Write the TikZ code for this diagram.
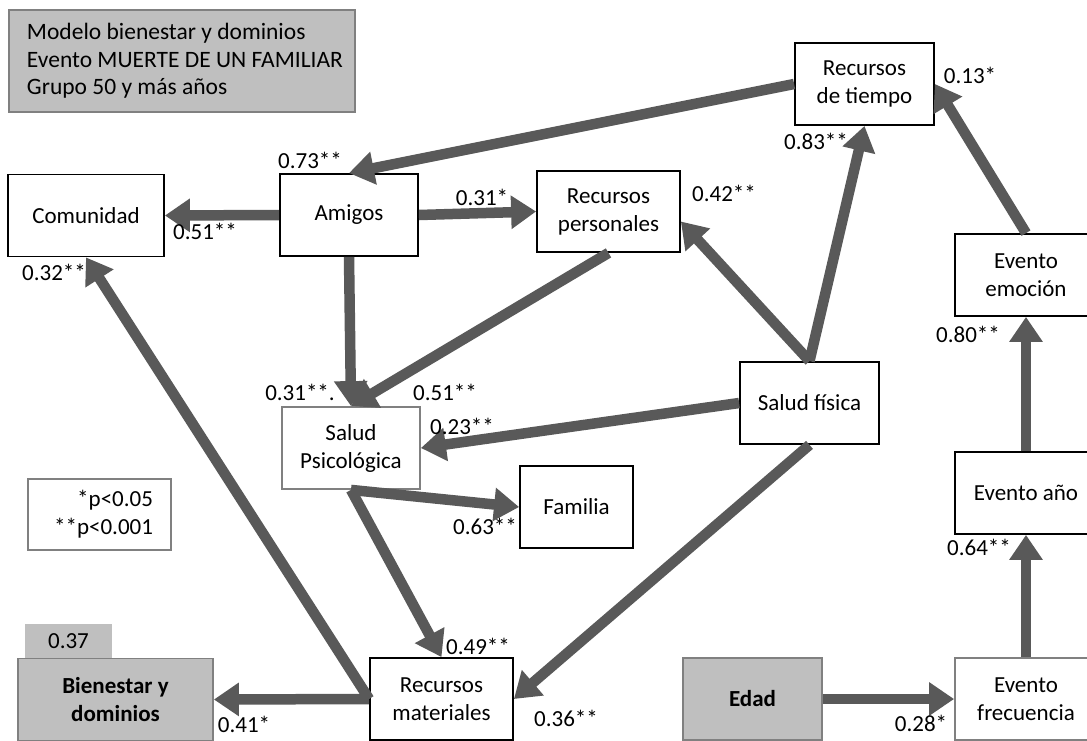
\documentclass[tikz,border=0pt]{standalone}
\usepackage{fontspec}
\setmainfont{Carlito}
\usetikzlibrary{arrows.meta}
\setlength{\parindent}{0pt}
\definecolor{arrowgray}{HTML}{595959}
\definecolor{boxgray}{HTML}{BFBFBF}
\definecolor{edgegray}{HTML}{808080}

\tikzset{
  box/.style={draw=black, line width=1.8pt, fill=white, minimum height=82pt,
    inner sep=0pt, align=center, font=\fontsize{23}{28}\selectfont},
  greybox/.style={box, fill=boxgray, draw=edgegray},
  softbox/.style={box, draw=edgegray},
  link/.style={draw=arrowgray, line width=10.5pt, -{Triangle[length=25pt,width=32pt]}},
  coef/.style={font=\fontsize{23}{27}\selectfont, inner sep=0pt}
}

\begin{document}
\begin{tikzpicture}[x=1pt, y=-1pt]
\useasboundingbox[fill=white] (0,0) rectangle (1087,740);

% header and legend (each title line kept on one line)
\node[greybox, minimum height=102pt, text width=310pt, inner xsep=18pt, align=flush left,
  font=\fontsize{23.5}{27.5}\selectfont]
  (title) at (182,61) {\mbox{Modelo bienestar y dominios}\\\mbox{Evento MUERTE DE UN FAMILIAR}\\\mbox{Grupo 50 y más años}};
\node[softbox, minimum height=71pt, text width=107pt, inner xsep=18pt, align=flush right]
  (legend) at (99.5,514.5) {*p<0.05\\{}**p<0.001};

% variables
\node[box, minimum width=156pt] (com) at (86,215.5) {Comunidad};
\node[box, minimum width=138pt] (ami) at (349,215) {Amigos};
\node[box, minimum width=143pt, minimum height=81pt] (rp) at (608.5,211.5) {Recursos\\personales};
\node[box, minimum width=139pt] (rt) at (864.5,84) {Recursos\\de tiempo};
\node[box, minimum width=142pt] (ee) at (1026,275) {Evento\\emoción};
\node[box, minimum width=139pt] (sf) at (809.5,403) {Salud física};
\node[softbox, minimum width=138pt] (sp) at (351,448) {Salud\\Psicológica};
\node[box, minimum width=113pt] (fam) at (576.5,507) {Familia};
\node[box, minimum width=142pt] (ea) at (1026,493) {Evento año};
\node[box, minimum width=143pt] (rm) at (441.5,699) {Recursos\\materiales};
\node[greybox, minimum width=195pt, font=\fontsize{23}{28}\selectfont\bfseries] (bd) at (115.5,699.5) {Bienestar y\\dominios};
\node[fill=boxgray, minimum width=87pt, minimum height=34pt, inner sep=0pt,
  font=\fontsize{23}{27}\selectfont] (r2) at (68.5,641) {0.37};
\node[greybox, minimum width=139pt, font=\fontsize{23}{28}\selectfont\bfseries] (edad) at (752.5,699) {Edad};
\node[softbox, minimum width=142pt] (ef) at (1026,699) {Evento\\frecuencia};

% paths
\draw[link] (rt.west) -- (ami.north);
\draw[link] (ami.west) -- (com.east);
\draw[link] (ami.east) -- (rp.west);
\draw[link] (ami.south) -- (sp.north);
\draw[link] (rp.south) -- (sp.north);
\draw[link] (sf.north) -- ([yshift=-10pt]rp.east);
\draw[link] (sf.north) -- (rt.south);
\draw[link] (sf.west) -- (sp.east);
\draw[link] (sf.south) -- (rm.east);
\draw[link] (sp.south) -- (fam.west);
\draw[link] (sp.south) -- (rm.north);
\draw[link] (rm.west) -- (com.south);
\draw[link] (rm.west) -- (bd.east);
\draw[link] (edad.east) -- (ef.west);
\draw[link] (ef.north) -- (ea.south);
\draw[link] (ea.north) -- (ee.south);
\draw[link] (ee.north) -- (rt.east);

% coefficients
\node[coef] (c1) at (310,160) {0.73**};
\node[coef] (c2) at (205,231) {0.51**};
\node[coef] (c3) at (482,197) {0.31*};
\node[coef] (c4) at (724,193) {0.42**};
\node[coef] (c5) at (816,141) {0.83**};
\node[coef] (c6) at (970,75) {0.13*};
\node[coef] (c7) at (54,272) {0.32**};
\node[coef] (c8) at (300,392) {0.31**.};
\node[coef] (c9) at (445,392) {0.51**};
\node[coef] (c10) at (462,426) {0.23**};
\node[coef] (c11) at (968,334) {0.80**};
\node[coef] (c12) at (485,526) {0.63**};
\node[coef] (c13) at (979,547) {0.64**};
\node[coef] (c14) at (478,646) {0.49**};
\node[coef] (c15) at (244,724) {0.41*};
\node[coef] (c16) at (566,718) {0.36**};
\node[coef] (c17) at (921,723) {0.28*};
\end{tikzpicture}
\end{document}
